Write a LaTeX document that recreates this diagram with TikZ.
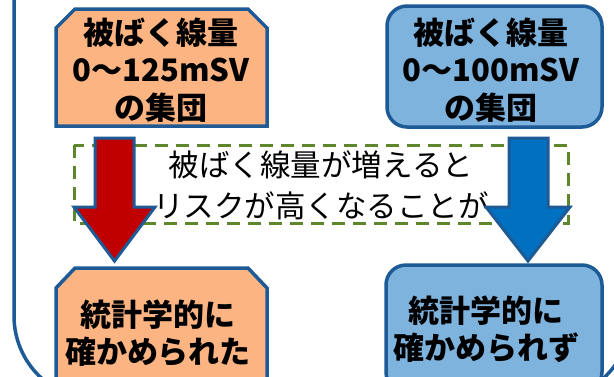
\documentclass[tikz,border=0pt]{standalone}
\usepackage{fontspec}
\newfontfamily\jp{Noto Sans CJK JP}
\definecolor{bord}{RGB}{30,90,150}
\definecolor{orfill}{RGB}{252,180,130}
\definecolor{blfill}{RGB}{126,179,222}
\definecolor{redarr}{RGB}{192,0,0}
\definecolor{bluarr}{RGB}{0,112,192}
\definecolor{grn}{RGB}{94,135,45}
\tikzset{
  boxline/.style={draw=bord, line width=3.5pt, line join=miter},
  boxtext/.style={font=\jp\bfseries\fontsize{31}{37.5}\selectfont, align=center, inner sep=0pt, text=black},
  midtext/.style={font=\jp\fontsize{30.5}{41}\selectfont, align=center, inner sep=0pt, text=black},
  arrowshape/.style={draw=bord, line width=3pt, line join=miter},
}
\begin{document}
\begin{tikzpicture}[x=1pt,y=-1pt]
\useasboundingbox (0,0) rectangle (614,376);
\clip (0,0) rectangle (614,376);
\fill[white] (0,0) rectangle (614,376);
% outer frame
\draw[draw=bord, line width=3.5pt, rounded corners=84pt] (14,-120) rectangle (631,400);
% dashed box
\draw[draw=grn, line width=3pt, dash pattern=on 13pt off 8pt] (74,145) rectangle (568,223);
\node[midtext] (mid) at (321,185) {被ばく線量が増えると\\リスクが高くなることが};
% top boxes
\filldraw[boxline, fill=orfill] (56,28) -- (75,9) -- (248,9) -- (267,28) -- (267,126) -- (56,126) -- cycle;
\node[boxtext] (tl) at (161,70) {被ばく線量\\0～125mSV\\の集団};
\filldraw[boxline, fill=blfill, rounded corners=20pt] (387,6) rectangle (602,127);
\node[boxtext] (tr) at (491,70) {被ばく線量\\0～100mSV\\の集団};
% bottom boxes
\filldraw[boxline, fill=orfill] (56,288) -- (75,268) -- (248,268) -- (267,288) -- (267,400) -- (56,400) -- cycle;
\node[boxtext] (bl) at (158,333) {統計学的に\\確かめられた};
\filldraw[boxline, fill=blfill, rounded corners=20pt] (386,265) rectangle (602,392);
\node[boxtext] (br) at (486,329) {統計学的に\\確かめられず};
% arrows
\filldraw[arrowshape, fill=redarr] (95,138) -- (134,138) -- (134,207) -- (155,207) -- (114.5,261) -- (74,207) -- (95,207) -- cycle;
\filldraw[arrowshape, fill=bluarr] (509,138) -- (548,138) -- (548,207) -- (570,207) -- (528,261) -- (486,207) -- (509,207) -- cycle;
\end{tikzpicture}
\end{document}
